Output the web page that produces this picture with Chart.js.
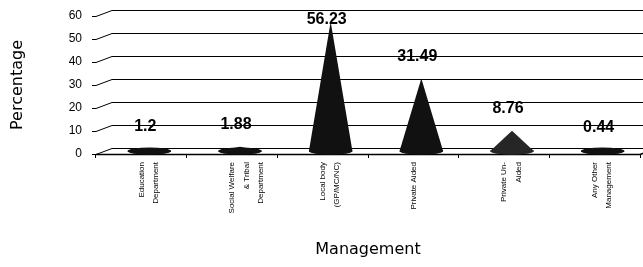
<!DOCTYPE html>
<html>
<head>
<meta charset="utf-8">
<script src="https://cdn.jsdelivr.net/npm/chart.js@4/dist/chart.umd.min.js"></script>
<style>
  html, body { margin: 0; padding: 0; background: #fff; }
  #ctx { display: block; }
</style>
</head>
<body>
<canvas id="ctx" width="643" height="267"></canvas>
<script>
const categories = [
  ['Education', 'Department'],
  ['Social Welfare', '& Tribal', 'Department'],
  ['Local body', '(GP/MC/NC)'],
  ['Private Aided'],
  ['Private Un-', 'Aided'],
  ['Any Other', 'Management']
]
const percentages = [1.2, 1.88, 56.23, 31.49, 8.76, 0.44]
const yTicks = [0, 10, 20, 30, 40, 50, 60]

// depth of the fake 3d box
const dx = 16
const dy = -6

const box3d = {
  id: 'box3d',
  beforeDatasetsDraw: (chart) => {
    const {ctx} = chart
    const {left, right} = chart.chartArea
    const y = chart.scales.y
    ctx.save()
    ctx.strokeStyle = '#000'
    ctx.lineWidth = 1
    yTicks.forEach(v => {
      const py = Math.round(y.getPixelForValue(v)) + 0.5
      ctx.beginPath()
      ctx.moveTo(left - 4, py)
      ctx.lineTo(left, py)
      ctx.lineTo(left + dx, py + dy)
      ctx.lineTo(right + dx, py + dy)
      ctx.stroke()
    })
    // floor
    const y0 = Math.round(y.getPixelForValue(0)) + 0.5
    ctx.lineWidth = 1.5
    ctx.beginPath()
    ctx.moveTo(left, y0)
    ctx.lineTo(right, y0)
    ctx.lineTo(right + dx, y0 + dy)
    ctx.stroke()
    ctx.restore()
  },
  afterDatasetsDraw: (chart) => {
    const {ctx} = chart
    const y = chart.scales.y
    const y0 = y.getPixelForValue(0)
    const meta = chart.getDatasetMeta(0)
    ctx.save()
    meta.data.forEach((el, i) => {
      const w = el.width / 2
      const cx = el.x + dx / 2
      const baseY = y0 + dy / 2
      const apexY = el.y + dy / 2
      ctx.fillStyle = i === 4 ? '#262626' : '#111'
      ctx.beginPath()
      ctx.moveTo(cx - w, baseY)
      ctx.lineTo(cx, apexY)
      ctx.lineTo(cx + w, baseY)
      ctx.ellipse(cx, baseY, w, 3.5, 0, 0, Math.PI)
      ctx.closePath()
      ctx.fill()
      ctx.beginPath()
      ctx.ellipse(cx, baseY, w, 3.5, 0, 0, Math.PI * 2)
      ctx.fill()
    })
    // value labels
    ctx.fillStyle = '#000'
    ctx.font = 'bold 16px Arial'
    ctx.textAlign = 'center'
    ctx.textBaseline = 'middle'
    meta.data.forEach((el, i) => {
      const ly = Math.max(20, el.y - 25)
      ctx.fillText(String(percentages[i]), el.x + 4, ly)
    })
    ctx.restore()
  }
}

const data = {
  labels: categories,
  datasets: [{
    data: percentages,
    backgroundColor: 'rgba(0,0,0,0)',
    borderWidth: 0,
    barPercentage: 0.48,
    categoryPercentage: 1
  }]
}

const options = {
  type: 'bar',
  data: data,
  options: {
    responsive: false,
    devicePixelRatio: 1,
    animation: false,
    layout: {
      padding: {left: 0, right: 3, top: 16, bottom: 8}
    },
    plugins: {
      legend: {display: false},
      tooltip: {enabled: false}
    },
    scales: {
      x: {
        grid: {
          display: true,
          drawOnChartArea: false,
          tickLength: 4,
          color: '#000'
        },
        border: {display: false},
        ticks: {
          maxRotation: 90,
          minRotation: 90,
          padding: 4,
          color: '#000',
          font: {family: 'Arial', size: 8, lineHeight: 1.8}
        },
        title: {
          display: true,
          text: 'Management',
          color: '#000',
          padding: 0,
          font: {family: 'DejaVu Sans', size: 16}
        },
        afterFit: (scale) => { scale.height = 267 - 8 - 154 }
      },
      y: {
        min: 0,
        max: 60,
        grid: {display: false},
        border: {display: false},
        ticks: {
          stepSize: 10,
          padding: 6,
          color: '#000',
          font: {family: 'Arial', size: 12}
        },
        title: {
          display: true,
          text: 'Percentage',
          color: '#000',
          padding: {top: 8, bottom: 0},
          font: {family: 'DejaVu Sans', size: 16}
        },
        afterFit: (scale) => { scale.width = 96 }
      }
    }
  },
  plugins: [box3d]
}

var chart = new Chart(document.getElementById('ctx'), options)
</script>
</body>
</html>
